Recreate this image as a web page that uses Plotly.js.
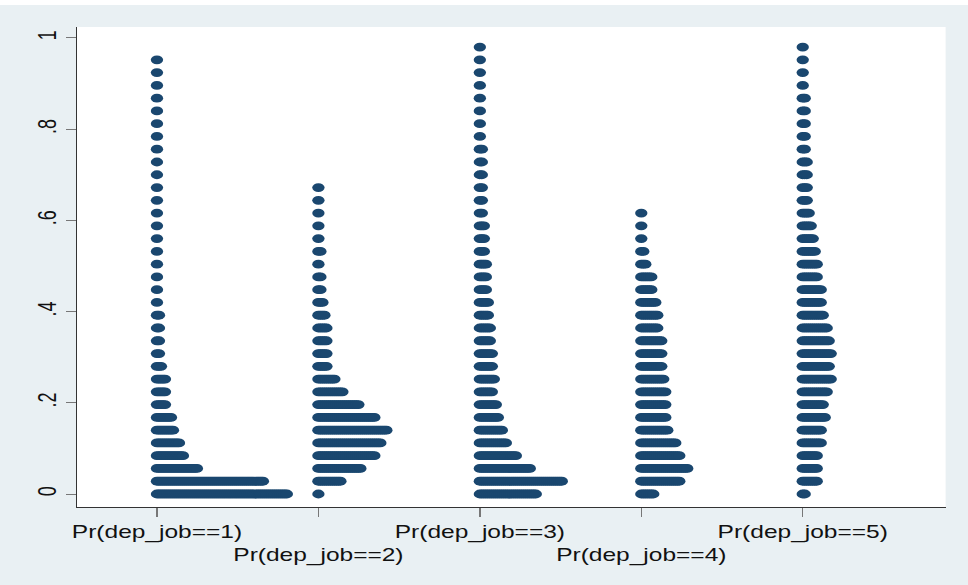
<!DOCTYPE html>
<html><head><meta charset="utf-8">
<script src="https://cdn.plot.ly/plotly-3.0.1.min.js"></script>
<style>
html,body{margin:0;padding:0;background:#ffffff;overflow:hidden;width:968px;height:585px}
#wrap{position:absolute;left:0;top:0;width:968px;height:585px;overflow:hidden}
#chart{position:absolute;left:0;top:5px;width:691px;height:580px;transform:scaleX(1.4009);transform-origin:0 0}
</style></head><body><div id="wrap"><div id="chart"></div></div>
<script>
// Category (variable) labels
const categories = ["Pr(dep_job==1)", "Pr(dep_job==2)", "Pr(dep_job==3)", "Pr(dep_job==4)", "Pr(dep_job==5)"];
// Bin values (y) of the dot plot
const yBins = [0, .028, .056, .084, .112, .14, .168, .196, .224, .252, .28, .308, .336, .364, .392, .42, .448, .476, .504, .532, .56, .588, .616, .644, .672, .70, .728, .756, .784, .812, .84, .868, .896, .924, .952, .98];
// Number of dots in each bin (index = bin), one array per variable
const countsJob1 = [66, 54, 21, 14, 12, 9, 8, 5, 5, 5, 3, 2, 2, 2, 2, 1, 1, 1, 1, 1, 1, 1, 1, 1, 1, 1, 1, 1, 1, 1, 1, 1, 1, 1, 1];
const countsJob2 = [1, 12, 22, 29, 32, 35, 29, 21, 13, 9, 5, 5, 5, 5, 4, 3, 2, 2, 1, 2, 1, 1, 1, 1, 1];
const countsJob3 = [29, 42, 26, 19, 14, 12, 10, 9, 7, 8, 7, 7, 6, 6, 5, 5, 4, 4, 4, 3, 3, 3, 2, 2, 2, 2, 2, 2, 1, 1, 1, 1, 1, 1, 1, 1];
const countsJob4 = [7, 20, 24, 20, 18, 14, 13, 13, 13, 12, 11, 11, 11, 9, 9, 8, 6, 6, 3, 2, 1, 1, 1];
const countsJob5 = [2, 8, 8, 8, 10, 10, 12, 11, 13, 15, 14, 15, 14, 13, 11, 10, 10, 8, 8, 7, 6, 5, 4, 3, 3, 3, 3, 2, 2, 2, 2, 2, 1, 1, 1, 1];
const tickVals = [0, .2, .4, .6, .8, 1];
const tickLabels = ["0", ".2", ".4", ".6", ".8", "1"];

const allCounts = [countsJob1, countsJob2, countsJob3, countsJob4, countsJob5];
const dotStep = 0.01238; // horizontal spacing of stacked dots (x units)
const traces = allCounts.map((cnt, i) => {
  const xs = [], ys = [];
  cnt.forEach((n, k) => { for (let j = 0; j < n; j++) { xs.push(i + 1 + j * dotStep); ys.push(yBins[k]); } });
  return {type: 'scatter', mode: 'markers', x: xs, y: ys, name: categories[i],
    marker: {color: '#1a476f', size: 8.8, line: {width: 0}}, hoverinfo: 'skip', showlegend: false};
});
const xText = categories.map((c, i) => (i % 2 === 1 ? '\u00a0<br>' + c : c));
const layout = {
  width: 691, height: 580,
  margin: {l: 55, r: 16, t: 22, b: 78, pad: 0},
  paper_bgcolor: '#e9f0f3', plot_bgcolor: '#ffffff',
  font: {family: 'Liberation Sans, Arial, sans-serif', color: '#111111'},
  xaxis: {range: [0.505, 5.885], tickvals: [1, 2, 3, 4, 5], ticktext: xText, tickangle: 0,
    ticks: 'outside', ticklen: 9, tickcolor: '#777777', tickwidth: 1,
    showline: true, linecolor: '#333333', linewidth: 1, showgrid: false, zeroline: false,
    tickfont: {size: 17.5, color: '#111111'}},
  yaxis: {range: [-0.0285, 1.024], tickvals: tickVals, ticktext: tickLabels, tickangle: -90,
    ticks: 'outside', ticklen: 7, tickcolor: '#777777', tickwidth: 1,
    showline: true, linecolor: '#333333', linewidth: 1, showgrid: false, zeroline: false,
    tickfont: {size: 18, color: '#111111'}}
};
Plotly.newPlot('chart', traces, layout, {staticPlot: true, displayModeBar: false});
</script></body></html>
